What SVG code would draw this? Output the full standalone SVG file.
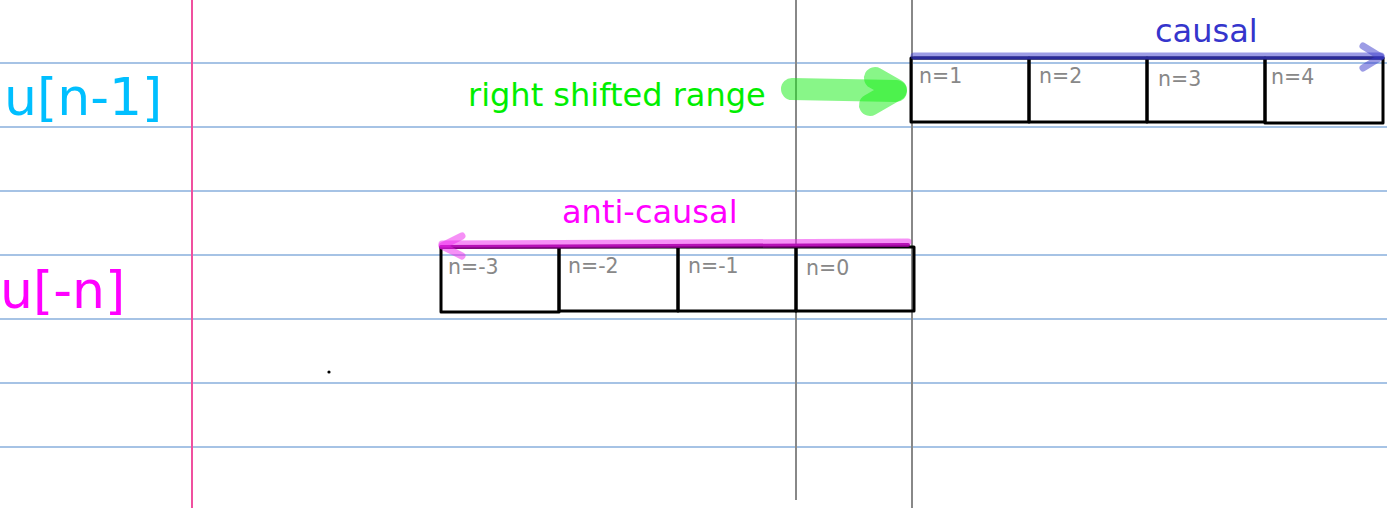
<svg xmlns="http://www.w3.org/2000/svg" width="1387" height="508" viewBox="0 0 1387 508">
<style>
.rule{stroke:#4f88cc;stroke-width:1.2}
.cell{fill:none;stroke:#000;stroke-width:3;stroke-linejoin:round}
.lbl{font-family:"DejaVu Sans",sans-serif;font-size:20.5px;fill:#888}
.big{font-family:"DejaVu Sans",sans-serif;font-size:52px}
.mid{font-family:"DejaVu Sans",sans-serif;font-size:32px}
.vline{stroke:#888;stroke-width:2}
</style>
<rect width="1387" height="508" fill="#fff"/>
<g id="paper">
<line class="rule" x1="0" y1="63" x2="1387" y2="63"/>
<line class="rule" x1="0" y1="127" x2="1387" y2="127"/>
<line class="rule" x1="0" y1="191" x2="1387" y2="191"/>
<line class="rule" x1="0" y1="255" x2="1387" y2="255"/>
<line class="rule" x1="0" y1="319" x2="1387" y2="319"/>
<line class="rule" x1="0" y1="383" x2="1387" y2="383"/>
<line class="rule" x1="0" y1="447" x2="1387" y2="447"/>
<line x1="192" y1="0" x2="192" y2="508" stroke="#f0509f" stroke-width="2"/>
<line class="vline" x1="796" y1="0" x2="796" y2="500"/>
<line class="vline" x1="912" y1="0" x2="912" y2="508"/>
<circle cx="329" cy="372" r="1.6" fill="#000"/>
</g>
<g id="title-un1"><text class="big" x="4" y="115" fill="#00bfff">u[n-1]</text></g>
<g id="title-u-n"><text class="big" x="0" y="308" fill="#ff00ff">u[-n]</text></g>
<g id="label-right"><text class="mid" x="468" y="106" fill="#00ee00">right shifted range</text></g>
<g id="label-causal"><text class="mid" x="1155" y="42" fill="#3535cc">causal</text></g>
<g id="label-anticausal"><text class="mid" x="562" y="223" fill="#ff00ff">anti-causal</text></g>
<g id="row-top">
<g id="c1"><rect class="cell" x="911" y="58" width="118" height="64"/><text class="lbl" x="919" y="83">n=1</text></g>
<g id="c2"><rect class="cell" x="1029" y="58" width="118" height="64"/><text class="lbl" x="1039" y="83">n=2</text></g>
<g id="c3"><rect class="cell" x="1147" y="58" width="118" height="64"/><text class="lbl" x="1158" y="86">n=3</text></g>
<g id="c4"><rect class="cell" x="1265" y="58" width="118" height="65"/><text class="lbl" x="1271" y="84">n=4</text></g>
</g>
<g id="row-bottom">
<g id="b1"><rect class="cell" x="441" y="247" width="118" height="65"/><text class="lbl" x="448" y="274">n=-3</text></g>
<g id="b2"><rect class="cell" x="559" y="247" width="119" height="64"/><text class="lbl" x="568" y="273">n=-2</text></g>
<g id="b3"><rect class="cell" x="678" y="247" width="118" height="64"/><text class="lbl" x="688" y="273">n=-1</text></g>
<g id="b4"><rect class="cell" x="796" y="247" width="118" height="64"/><text class="lbl" x="806" y="275">n=0</text></g>
</g>
<g id="connectors" fill="none" stroke-linecap="round" stroke-linejoin="round">
<line x1="914" y1="58" x2="1383" y2="58" stroke="#1a1a66" stroke-width="3"/>
<g stroke="#3a3acc" stroke-opacity="0.5" stroke-width="7">
<line x1="914" y1="56" x2="1381" y2="56"/>
<polyline points="1363,46 1381,57 1363,68"/>
</g>
<line x1="441" y1="247" x2="908" y2="245" stroke="#800080" stroke-width="4"/>
<g stroke="#ee22ee" stroke-opacity="0.5" stroke-width="7">
<line x1="442" y1="244" x2="908" y2="242"/>
<polyline points="462,236 442,246 462,256"/>
</g>
<g stroke="#11ee11" stroke-opacity="0.5" stroke-width="22">
<line x1="792" y1="89" x2="896" y2="91"/>
<polyline points="875,78 896,90 870,105"/>
</g>
</g>
</svg>
